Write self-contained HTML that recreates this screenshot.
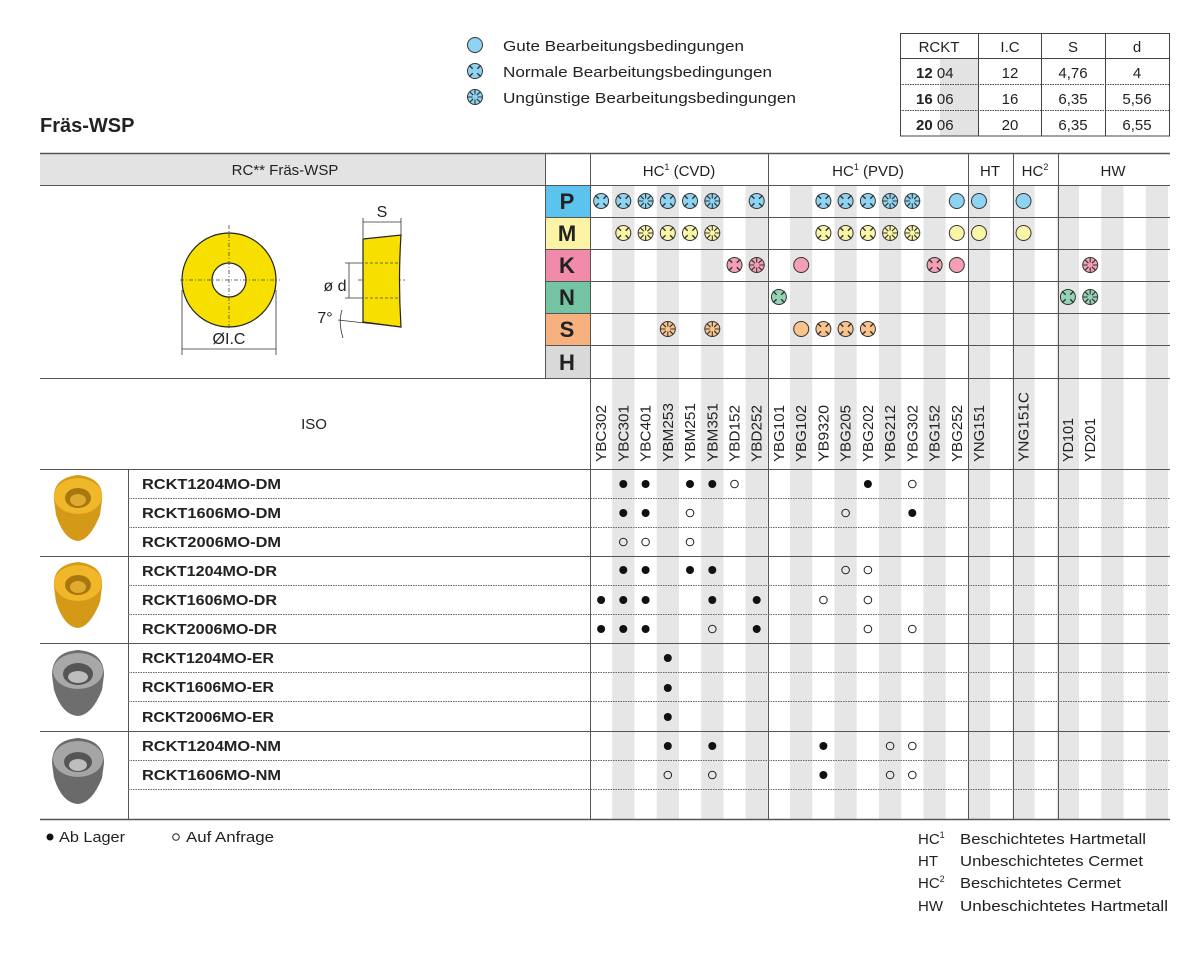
<!DOCTYPE html>
<html><head><meta charset="utf-8"><style>
html,body{margin:0;padding:0;background:#fff;}
svg{display:block;font-family:"Liberation Sans",sans-serif;}
</style></head><body>
<svg width="1196" height="966" viewBox="0 0 1196 966" xmlns="http://www.w3.org/2000/svg">
<defs>
<g id="G"><circle r="7.5" fill="currentColor" stroke="#333" stroke-width="1"/></g>
<g id="N"><circle r="7.5" fill="currentColor" stroke="#333" stroke-width="1"/><path d="M2.3 2.3L5.8 5.8M-2.3 2.3L-5.8 5.8M2.3 -2.3L5.8 -5.8M-2.3 -2.3L-5.8 -5.8" stroke="#333" stroke-width="1.4"/></g>
<g id="U"><circle r="7.5" fill="currentColor" stroke="#333" stroke-width="1"/><path d="M0 2.5V7.5M0 -2.5V-7.5M2.5 0H7.5M-2.5 0H-7.5M1.8 1.8L5.3 5.3M-1.8 1.8L-5.3 5.3M1.8 -1.8L5.3 -5.3M-1.8 -1.8L-5.3 -5.3" stroke="#333" stroke-width="1.1"/></g>
</defs>

<!-- legend -->
<use href="#G" x="475" y="45" color="#8ed4f2"/>
<use href="#N" x="475" y="71" color="#8ed4f2"/>
<use href="#U" x="475" y="97" color="#8ed4f2"/>
<g font-size="15" fill="#222">
<text x="503" y="51" textLength="241" lengthAdjust="spacingAndGlyphs">Gute Bearbeitungsbedingungen</text>
<text x="503" y="77" textLength="269" lengthAdjust="spacingAndGlyphs">Normale Bearbeitungsbedingungen</text>
<text x="503" y="103" textLength="293" lengthAdjust="spacingAndGlyphs">Ungünstige Bearbeitungsbedingungen</text>
</g>

<!-- top right table -->
<rect x="940" y="58" width="38" height="78" fill="#e3e3e3"/>
<g stroke="#444" stroke-width="1" fill="none">
<rect x="900.5" y="33.5" width="269" height="102.5"/>
<line x1="900" y1="58.5" x2="1170" y2="58.5"/>
<line x1="978.5" y1="33" x2="978.5" y2="136"/>
<line x1="1041.5" y1="33" x2="1041.5" y2="136"/>
<line x1="1105.5" y1="33" x2="1105.5" y2="136"/>
<line x1="900" y1="84.5" x2="1170" y2="84.5" stroke-dasharray="1.5 1"/>
<line x1="900" y1="110.5" x2="1170" y2="110.5" stroke-dasharray="1.5 1"/>
</g>
<g font-size="15" fill="#222" text-anchor="middle">
<text x="939" y="52">RCKT</text><text x="1010" y="52">I.C</text><text x="1073" y="52">S</text><text x="1137" y="52">d</text>
<text x="1010" y="78">12</text><text x="1073" y="78">4,76</text><text x="1137" y="78">4</text>
<text x="1010" y="104">16</text><text x="1073" y="104">6,35</text><text x="1137" y="104">5,56</text>
<text x="1010" y="130">20</text><text x="1073" y="130">6,35</text><text x="1137" y="130">6,55</text>
</g>
<g font-size="15" fill="#222">
<text x="916" y="78"><tspan font-weight="bold">12</tspan> 04</text>
<text x="916" y="104"><tspan font-weight="bold">16</tspan> 06</text>
<text x="916" y="130"><tspan font-weight="bold">20</tspan> 06</text>
</g>

<text x="40" y="132" font-size="20" font-weight="bold" fill="#222">Fräs-WSP</text>

<!-- main table backgrounds -->
<rect x="40" y="153" width="505" height="32" fill="#e3e3e3"/>
<g fill="#e6e6e6">
<rect x="612.2" y="185" width="22.2" height="634"/>
<rect x="656.7" y="185" width="22.2" height="634"/>
<rect x="701.2" y="185" width="22.2" height="634"/>
<rect x="745.6" y="185" width="22.2" height="634"/>
<rect x="790.1" y="185" width="22.2" height="634"/>
<rect x="834.5" y="185" width="22.2" height="634"/>
<rect x="879.0" y="185" width="22.2" height="634"/>
<rect x="923.5" y="185" width="22.2" height="634"/>
<rect x="967.9" y="185" width="22.2" height="634"/>
<rect x="1012.4" y="185" width="22.2" height="634"/>
<rect x="1056.8" y="185" width="22.2" height="634"/>
<rect x="1101.3" y="185" width="22.2" height="634"/>
<rect x="1145.8" y="185" width="22.2" height="634"/>
</g>
<rect x="545" y="185" width="45" height="32" fill="#5cc3ee"/>
<rect x="545" y="217" width="45" height="32" fill="#fcf3a6"/>
<rect x="545" y="249" width="45" height="32" fill="#f08ca9"/>
<rect x="545" y="281" width="45" height="32" fill="#74c4a4"/>
<rect x="545" y="313" width="45" height="32" fill="#f6b17f"/>
<rect x="545" y="345" width="45" height="33" fill="#d9d9d9"/>
<g font-size="22" font-weight="bold" fill="#222" text-anchor="middle">
<text x="567" y="209">P</text><text x="567" y="241">M</text><text x="567" y="273">K</text><text x="567" y="305">N</text><text x="567" y="337">S</text><text x="567" y="370">H</text>
</g>

<!-- lines -->
<g stroke="#555" stroke-width="1">
<line x1="40" y1="153.5" x2="1170" y2="153.5" stroke-width="1.5"/>
<line x1="40" y1="185.5" x2="1170" y2="185.5"/>
<line x1="545" y1="217.5" x2="1170" y2="217.5"/>
<line x1="545" y1="249.5" x2="1170" y2="249.5"/>
<line x1="545" y1="281.5" x2="1170" y2="281.5"/>
<line x1="545" y1="313.5" x2="1170" y2="313.5"/>
<line x1="545" y1="345.5" x2="1170" y2="345.5"/>
<line x1="40" y1="378.5" x2="1170" y2="378.5"/>
<line x1="40" y1="469.5" x2="1170" y2="469.5"/>
<line x1="40" y1="556.5" x2="1170" y2="556.5"/>
<line x1="40" y1="643.5" x2="1170" y2="643.5"/>
<line x1="40" y1="731.5" x2="1170" y2="731.5"/>
<line x1="40" y1="819.5" x2="1170" y2="819.5" stroke-width="1.5"/>
<line x1="545.5" y1="153" x2="545.5" y2="378"/>
<line x1="590.5" y1="153" x2="590.5" y2="819"/>
<line x1="768.5" y1="153" x2="768.5" y2="819"/>
<line x1="968.5" y1="153" x2="968.5" y2="819"/>
<line x1="1013.5" y1="153" x2="1013.5" y2="819"/>
<line x1="1058.5" y1="153" x2="1058.5" y2="819"/>
<line x1="128.5" y1="469" x2="128.5" y2="819"/>
</g>
<g stroke="#666" stroke-width="1" stroke-dasharray="1.5 1">
<line x1="128" y1="498.5" x2="1170" y2="498.5"/>
<line x1="128" y1="527.5" x2="1170" y2="527.5"/>
<line x1="128" y1="585.5" x2="1170" y2="585.5"/>
<line x1="128" y1="614.5" x2="1170" y2="614.5"/>
<line x1="128" y1="672.5" x2="1170" y2="672.5"/>
<line x1="128" y1="701.5" x2="1170" y2="701.5"/>
<line x1="128" y1="760.5" x2="1170" y2="760.5"/>
<line x1="128" y1="789.5" x2="1170" y2="789.5"/>
</g>

<!-- header texts -->
<g font-size="15" fill="#222" text-anchor="middle">
<text x="285" y="175">RC** Fräs-WSP</text>
<text x="679" y="176">HC<tspan font-size="9" dy="-6">1</tspan><tspan dy="6"> (CVD)</tspan></text>
<text x="868" y="176">HC<tspan font-size="9" dy="-6">1</tspan><tspan dy="6"> (PVD)</tspan></text>
<text x="990" y="176">HT</text>
<text x="1035" y="176">HC<tspan font-size="9" dy="-6">2</tspan></text>
<text x="1113" y="176">HW</text>
<text x="314" y="429">ISO</text>
</g>

<!-- drawing -->
<g stroke="#222" stroke-width="1.2">
<circle cx="229" cy="280" r="47" fill="#f7e000"/>
<circle cx="229" cy="280" r="17" fill="#fff"/>
</g>
<g stroke="#444" stroke-width="0.8" stroke-dasharray="4 2 1 2" fill="none">
<line x1="180" y1="280" x2="280" y2="280"/>
<line x1="229" y1="225" x2="229" y2="330"/>
<line x1="358" y1="280" x2="405" y2="280"/>
</g>
<g stroke="#333" stroke-width="0.8" fill="none">
<line x1="182" y1="290" x2="182" y2="355"/>
<line x1="276" y1="290" x2="276" y2="355"/>
<line x1="182" y1="349" x2="276" y2="349"/>
<line x1="363" y1="218" x2="363" y2="238"/>
<line x1="401" y1="218" x2="401" y2="235"/>
<line x1="363" y1="222" x2="401" y2="222"/>
<line x1="345" y1="263" x2="370" y2="263"/>
<line x1="345" y1="298" x2="370" y2="298"/>
<line x1="349" y1="263" x2="349" y2="298"/>
<line x1="338" y1="320" x2="401" y2="327"/>
<path d="M342 310 Q338 322 343 338"/>
</g>
<path d="M363 239 L401 235 Q398 280 401 327 L363 322 Z" fill="#f7e000" stroke="#222" stroke-width="1.2"/>
<g stroke="#444" stroke-width="0.8" stroke-dasharray="3 2" fill="none">
<line x1="365" y1="263" x2="400" y2="263"/><line x1="365" y1="298" x2="400" y2="298"/>
</g>
<g font-size="16" fill="#222" text-anchor="middle">
<text x="229" y="344">ØI.C</text>
<text x="382" y="217">S</text>
<text x="335" y="291">ø d</text>
<text x="325" y="323">7°</text>
</g>

<!-- grade labels -->
<g font-size="15" fill="#222">
<text transform="translate(606.1,462) rotate(-90)" textLength="57" lengthAdjust="spacingAndGlyphs">YBC302</text>
<text transform="translate(628.3,462) rotate(-90)" textLength="57" lengthAdjust="spacingAndGlyphs">YBC301</text>
<text transform="translate(650.6,462) rotate(-90)" textLength="57" lengthAdjust="spacingAndGlyphs">YBC401</text>
<text transform="translate(672.8,462) rotate(-90)" textLength="59" lengthAdjust="spacingAndGlyphs">YBM253</text>
<text transform="translate(695.0,462) rotate(-90)" textLength="59" lengthAdjust="spacingAndGlyphs">YBM251</text>
<text transform="translate(717.3,462) rotate(-90)" textLength="59" lengthAdjust="spacingAndGlyphs">YBM351</text>
<text transform="translate(739.5,462) rotate(-90)" textLength="57" lengthAdjust="spacingAndGlyphs">YBD152</text>
<text transform="translate(761.7,462) rotate(-90)" textLength="57" lengthAdjust="spacingAndGlyphs">YBD252</text>
<text transform="translate(783.9,462) rotate(-90)" textLength="57" lengthAdjust="spacingAndGlyphs">YBG101</text>
<text transform="translate(806.2,462) rotate(-90)" textLength="57" lengthAdjust="spacingAndGlyphs">YBG102</text>
<text transform="translate(828.4,462) rotate(-90)" textLength="57" lengthAdjust="spacingAndGlyphs">YB9320</text>
<text transform="translate(850.6,462) rotate(-90)" textLength="57" lengthAdjust="spacingAndGlyphs">YBG205</text>
<text transform="translate(872.9,462) rotate(-90)" textLength="57" lengthAdjust="spacingAndGlyphs">YBG202</text>
<text transform="translate(895.1,462) rotate(-90)" textLength="57" lengthAdjust="spacingAndGlyphs">YBG212</text>
<text transform="translate(917.3,462) rotate(-90)" textLength="57" lengthAdjust="spacingAndGlyphs">YBG302</text>
<text transform="translate(939.6,462) rotate(-90)" textLength="57" lengthAdjust="spacingAndGlyphs">YBG152</text>
<text transform="translate(961.8,462) rotate(-90)" textLength="57" lengthAdjust="spacingAndGlyphs">YBG252</text>
<text transform="translate(984.0,462) rotate(-90)" textLength="57" lengthAdjust="spacingAndGlyphs">YNG151</text>
<text transform="translate(1028.5,462) rotate(-90)" textLength="70" lengthAdjust="spacingAndGlyphs">YNG151C</text>
<text transform="translate(1072.9,462) rotate(-90)" textLength="44" lengthAdjust="spacingAndGlyphs">YD101</text>
<text transform="translate(1095.2,462) rotate(-90)" textLength="44" lengthAdjust="spacingAndGlyphs">YD201</text>
</g>

<!-- P row -->
<g>
<use href="#N" x="601.1" y="201" color="#8ed4f2"/>
<use href="#N" x="623.3" y="201" color="#8ed4f2"/>
<use href="#U" x="645.6" y="201" color="#8ed4f2"/>
<use href="#N" x="667.8" y="201" color="#8ed4f2"/>
<use href="#N" x="690.0" y="201" color="#8ed4f2"/>
<use href="#U" x="712.3" y="201" color="#8ed4f2"/>
<use href="#N" x="756.7" y="201" color="#8ed4f2"/>
<use href="#N" x="823.4" y="201" color="#8ed4f2"/>
<use href="#N" x="845.6" y="201" color="#8ed4f2"/>
<use href="#N" x="867.9" y="201" color="#8ed4f2"/>
<use href="#U" x="890.1" y="201" color="#8ed4f2"/>
<use href="#U" x="912.3" y="201" color="#8ed4f2"/>
<use href="#G" x="956.8" y="201" color="#8ed4f2"/>
<use href="#G" x="979.0" y="201" color="#8ed4f2"/>
<use href="#G" x="1023.5" y="201" color="#8ed4f2"/>
</g>
<!-- M row -->
<g>
<use href="#N" x="623.3" y="233" color="#faf6a8"/>
<use href="#U" x="645.6" y="233" color="#faf6a8"/>
<use href="#N" x="667.8" y="233" color="#faf6a8"/>
<use href="#N" x="690.0" y="233" color="#faf6a8"/>
<use href="#U" x="712.3" y="233" color="#faf6a8"/>
<use href="#N" x="823.4" y="233" color="#faf6a8"/>
<use href="#N" x="845.6" y="233" color="#faf6a8"/>
<use href="#N" x="867.9" y="233" color="#faf6a8"/>
<use href="#U" x="890.1" y="233" color="#faf6a8"/>
<use href="#U" x="912.3" y="233" color="#faf6a8"/>
<use href="#G" x="956.8" y="233" color="#faf6a8"/>
<use href="#G" x="979.0" y="233" color="#faf6a8"/>
<use href="#G" x="1023.5" y="233" color="#faf6a8"/>
</g>
<!-- K row -->
<g>
<use href="#N" x="734.5" y="265" color="#f4a0b4"/>
<use href="#U" x="756.7" y="265" color="#f4a0b4"/>
<use href="#G" x="801.2" y="265" color="#f4a0b4"/>
<use href="#N" x="934.6" y="265" color="#f4a0b4"/>
<use href="#G" x="956.8" y="265" color="#f4a0b4"/>
<use href="#U" x="1090.2" y="265" color="#f4a0b4"/>
</g>
<!-- N row -->
<g>
<use href="#N" x="778.9" y="297" color="#96d2b4"/>
<use href="#N" x="1067.9" y="297" color="#96d2b4"/>
<use href="#U" x="1090.2" y="297" color="#96d2b4"/>
</g>
<!-- S row -->
<g>
<use href="#U" x="667.8" y="329" color="#f9c38c"/>
<use href="#U" x="712.3" y="329" color="#f9c38c"/>
<use href="#G" x="801.2" y="329" color="#f9c38c"/>
<use href="#N" x="823.4" y="329" color="#f9c38c"/>
<use href="#N" x="845.6" y="329" color="#f9c38c"/>
<use href="#N" x="867.9" y="329" color="#f9c38c"/>
</g>

<!-- product names -->
<g font-size="15" font-weight="bold" fill="#222">
<text x="142" y="489" textLength="139" lengthAdjust="spacingAndGlyphs">RCKT1204MO-DM</text>
<text x="142" y="518" textLength="139" lengthAdjust="spacingAndGlyphs">RCKT1606MO-DM</text>
<text x="142" y="547" textLength="139" lengthAdjust="spacingAndGlyphs">RCKT2006MO-DM</text>
<text x="142" y="576" textLength="135" lengthAdjust="spacingAndGlyphs">RCKT1204MO-DR</text>
<text x="142" y="605" textLength="135" lengthAdjust="spacingAndGlyphs">RCKT1606MO-DR</text>
<text x="142" y="634" textLength="135" lengthAdjust="spacingAndGlyphs">RCKT2006MO-DR</text>
<text x="142" y="663" textLength="132" lengthAdjust="spacingAndGlyphs">RCKT1204MO-ER</text>
<text x="142" y="692" textLength="132" lengthAdjust="spacingAndGlyphs">RCKT1606MO-ER</text>
<text x="142" y="722" textLength="132" lengthAdjust="spacingAndGlyphs">RCKT2006MO-ER</text>
<text x="142" y="751" textLength="139" lengthAdjust="spacingAndGlyphs">RCKT1204MO-NM</text>
<text x="142" y="780" textLength="139" lengthAdjust="spacingAndGlyphs">RCKT1606MO-NM</text>
</g>

<!-- product images -->
<g>
<path d="M54 500 Q52 478 78 475 Q104 478 102 500 L100 515 Q90 540 78 541 Q64 540 56 515 Z" fill="#d49a17"/>
<ellipse cx="78" cy="496" rx="24" ry="18" fill="#f0b72a"/>
<ellipse cx="78" cy="498" rx="13" ry="10" fill="#a8780e"/>
<ellipse cx="78" cy="500" rx="8" ry="6" fill="#e0aa30"/>
<path d="M54 587 Q52 565 78 562 Q104 565 102 587 L100 602 Q90 627 78 628 Q64 627 56 602 Z" fill="#d49a17"/>
<ellipse cx="78" cy="583" rx="24" ry="18" fill="#f0b72a"/>
<ellipse cx="78" cy="585" rx="13" ry="10" fill="#a8780e"/>
<ellipse cx="78" cy="587" rx="8" ry="6" fill="#e0aa30"/>
<path d="M52 675 Q52 652 78 650 Q104 652 104 675 L102 690 Q92 715 78 716 Q62 715 54 690 Z" fill="#6e6e6e"/>
<ellipse cx="78" cy="671" rx="25" ry="18" fill="#a8a8a8"/>
<ellipse cx="78" cy="674" rx="15" ry="11" fill="#555"/>
<ellipse cx="78" cy="677" rx="10" ry="6" fill="#bdbdbd"/>
<path d="M52 763 Q52 740 78 738 Q104 740 104 763 L102 778 Q92 803 78 804 Q62 803 54 778 Z" fill="#6a6a6a"/>
<ellipse cx="78" cy="759" rx="25" ry="18" fill="#a5a5a5"/>
<ellipse cx="78" cy="762" rx="14" ry="10" fill="#555"/>
<ellipse cx="78" cy="765" rx="9" ry="6" fill="#bdbdbd"/>
</g>

<!-- availability dots -->
<g fill="#111">
<circle cx="623.3" cy="484" r="4"/><circle cx="645.6" cy="484" r="4"/><circle cx="690.0" cy="484" r="4"/><circle cx="712.3" cy="484" r="4"/><circle cx="867.9" cy="484" r="4"/>
<circle cx="623.3" cy="513" r="4"/><circle cx="645.6" cy="513" r="4"/><circle cx="912.3" cy="513" r="4"/>
<circle cx="623.3" cy="570" r="4"/><circle cx="645.6" cy="570" r="4"/><circle cx="690.0" cy="570" r="4"/><circle cx="712.3" cy="570" r="4"/>
<circle cx="601.1" cy="600" r="4"/><circle cx="623.3" cy="600" r="4"/><circle cx="645.6" cy="600" r="4"/><circle cx="712.3" cy="600" r="4"/><circle cx="756.7" cy="600" r="4"/>
<circle cx="601.1" cy="629" r="4"/><circle cx="623.3" cy="629" r="4"/><circle cx="645.6" cy="629" r="4"/><circle cx="756.7" cy="629" r="4"/>
<circle cx="667.8" cy="658" r="4"/><circle cx="667.8" cy="688" r="4"/><circle cx="667.8" cy="717" r="4"/>
<circle cx="667.8" cy="746" r="4"/><circle cx="712.3" cy="746" r="4"/><circle cx="823.4" cy="746" r="4"/>
<circle cx="823.4" cy="775" r="4"/>
<circle cx="50" cy="837" r="3.5"/>
</g>
<g fill="none" stroke="#222" stroke-width="1">
<circle cx="734.5" cy="484" r="3.8"/><circle cx="912.3" cy="484" r="3.8"/>
<circle cx="690.0" cy="513" r="3.8"/><circle cx="845.6" cy="513" r="3.8"/>
<circle cx="623.3" cy="542" r="3.8"/><circle cx="645.6" cy="542" r="3.8"/><circle cx="690.0" cy="542" r="3.8"/>
<circle cx="845.6" cy="570" r="3.8"/><circle cx="867.9" cy="570" r="3.8"/>
<circle cx="823.4" cy="600" r="3.8"/><circle cx="867.9" cy="600" r="3.8"/>
<circle cx="712.3" cy="629" r="3.8"/><circle cx="867.9" cy="629" r="3.8"/><circle cx="912.3" cy="629" r="3.8"/>
<circle cx="890.1" cy="746" r="3.8"/><circle cx="912.3" cy="746" r="3.8"/>
<circle cx="667.8" cy="775" r="3.8"/><circle cx="712.3" cy="775" r="3.8"/><circle cx="890.1" cy="775" r="3.8"/><circle cx="912.3" cy="775" r="3.8"/>
<circle cx="176" cy="837" r="3.3"/>
</g>

<!-- footer -->
<g font-size="15" fill="#222">
<text x="59" y="842" textLength="66" lengthAdjust="spacingAndGlyphs">Ab Lager</text>
<text x="186" y="842" textLength="88" lengthAdjust="spacingAndGlyphs">Auf Anfrage</text>
<text x="918" y="844">HC<tspan font-size="9" dy="-6">1</tspan></text>
<text x="918" y="866">HT</text>
<text x="918" y="888">HC<tspan font-size="9" dy="-6">2</tspan></text>
<text x="918" y="911">HW</text>
<text x="960" y="844" textLength="186" lengthAdjust="spacingAndGlyphs">Beschichtetes Hartmetall</text>
<text x="960" y="866" textLength="183" lengthAdjust="spacingAndGlyphs">Unbeschichtetes Cermet</text>
<text x="960" y="888" textLength="161" lengthAdjust="spacingAndGlyphs">Beschichtetes Cermet</text>
<text x="960" y="911" textLength="208" lengthAdjust="spacingAndGlyphs">Unbeschichtetes Hartmetall</text>
</g>
</svg>
</body></html>
